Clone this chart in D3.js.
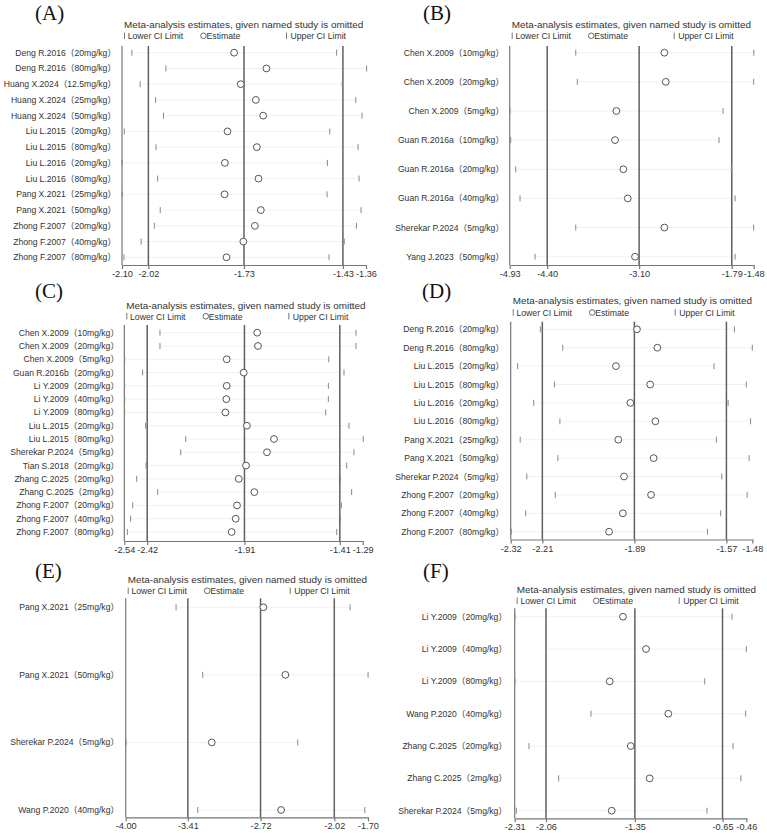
<!DOCTYPE html>
<html>
<head>
<meta charset="utf-8">
<script src="https://cdn.jsdelivr.net/npm/d3@7"></script>
<style>
  html, body { margin: 0; padding: 0; background: #fff; }
  svg { display: block; }
  .lab { font-family: "Liberation Sans", Arial, "Noto Sans CJK SC", sans-serif; fill: #333; }
  .panel-tag { font-family: "Liberation Serif", "Times New Roman", serif; fill: #111; }
</style>
</head>
<body>
<svg id="chart" width="767" height="833"></svg>
<script>
// ---- data: leave-one-out estimates for each panel ----
const studiesA = ["Deng R.2016（20mg/kg）", "Deng R.2016（80mg/kg）", "Huang X.2024（12.5mg/kg）", "Huang X.2024（25mg/kg）",
  "Huang X.2024（50mg/kg）", "Liu L.2015（20mg/kg）", "Liu L.2015（80mg/kg）", "Liu L.2016（20mg/kg）", "Liu L.2016（80mg/kg）",
  "Pang X.2021（25mg/kg）", "Pang X.2021（50mg/kg）", "Zhong F.2007（20mg/kg）", "Zhong F.2007（40mg/kg）", "Zhong F.2007（80mg/kg）"];
const lowerA = [-2.070, -1.967, -2.045, -1.998, -1.974, -2.093, -1.997, -2.099, -1.992, -2.099, -1.984, -2.002, -2.042, -2.094];
const estA   = [-1.760, -1.662, -1.740, -1.694, -1.672, -1.780, -1.691, -1.788, -1.686, -1.789, -1.679, -1.697, -1.732, -1.783];
const upperA = [-1.449, -1.358, -1.432, -1.391, -1.372, -1.470, -1.384, -1.477, -1.381, -1.478, -1.375, -1.389, -1.426, -1.472];
const ticksA = [-2.10, -2.02, -1.73, -1.43, -1.36];

const studiesB = ["Chen X.2009（10mg/kg）", "Chen X.2009（20mg/kg）", "Chen X.2009（5mg/kg）", "Guan R.2016a（10mg/kg）",
  "Guan R.2016a（20mg/kg）", "Guan R.2016a（40mg/kg）", "Sherekar P.2024（5mg/kg）", "Yang J.2023（50mg/kg）"];
const lowerB = [-3.996, -3.974, -4.926, -4.916, -4.845, -4.784, -3.996, -4.572];
const estB   = [-2.743, -2.723, -3.422, -3.441, -3.323, -3.261, -2.743, -3.158];
const upperB = [-1.479, -1.480, -1.913, -1.970, -1.796, -1.743, -1.480, -1.743];
const ticksB = [-4.93, -4.40, -3.10, -1.79, -1.48];

const studiesC = ["Chen X.2009（10mg/kg）", "Chen X.2009（20mg/kg）", "Chen X.2009（5mg/kg）", "Guan R.2016b（20mg/kg）",
  "Li Y.2009（20mg/kg）", "Li Y.2009（40mg/kg）", "Li Y.2009（80mg/kg）", "Liu L.2015（20mg/kg）", "Liu L.2015（80mg/kg）",
  "Sherekar P.2024（5mg/kg）", "Tian S.2018（20mg/kg）", "Zhang C.2025（20mg/kg）", "Zhang C.2025（2mg/kg）",
  "Zhong F.2007（20mg/kg）", "Zhong F.2007（40mg/kg）", "Zhong F.2007（80mg/kg）"];
const lowerC = [-2.353, -2.353, -2.538, -2.444, -2.538, -2.538, -2.538, -2.428, -2.218, -2.244, -2.426, -2.475, -2.365, -2.496, -2.507, -2.524];
const estC   = [-1.843, -1.839, -2.003, -1.914, -2.003, -2.005, -2.010, -1.897, -1.755, -1.792, -1.902, -1.940, -1.858, -1.949, -1.956, -1.977];
const upperC = [-1.325, -1.325, -1.468, -1.388, -1.470, -1.470, -1.484, -1.362, -1.287, -1.336, -1.374, -1.407, -1.348, -1.402, -1.407, -1.426];
const ticksC = [-2.54, -2.42, -1.91, -1.41, -1.29];

const studiesD = ["Deng R.2016（20mg/kg）", "Deng R.2016（80mg/kg）", "Liu L.2015（20mg/kg）", "Liu L.2015（80mg/kg）",
  "Liu L.2016（20mg/kg）", "Liu L.2016（80mg/kg）", "Pang X.2021（25mg/kg）", "Pang X.2021（50mg/kg）",
  "Sherekar P.2024（5mg/kg）", "Zhong F.2007（20mg/kg）", "Zhong F.2007（40mg/kg）", "Zhong F.2007（80mg/kg）"];
const lowerD = [-2.217, -2.139, -2.296, -2.168, -2.240, -2.149, -2.287, -2.156, -2.264, -2.165, -2.268, -2.318];
const estD   = [-1.881, -1.810, -1.954, -1.835, -1.904, -1.817, -1.946, -1.823, -1.926, -1.832, -1.930, -1.978];
const upperD = [-1.542, -1.480, -1.613, -1.501, -1.564, -1.486, -1.605, -1.491, -1.586, -1.498, -1.590, -1.636];
const ticksD = [-2.32, -2.21, -1.89, -1.57, -1.48];

const studiesE = ["Pang X.2021（25mg/kg）", "Pang X.2021（50mg/kg）", "Sherekar P.2024（5mg/kg）", "Wang P.2020（40mg/kg）"];
const lowerE = [-3.522, -3.269, -3.997, -3.316];
const estE   = [-2.693, -2.484, -3.183, -2.525];
const upperE = [-1.870, -1.699, -2.367, -1.730];
const ticksE = [-4.00, -3.41, -2.72, -2.02, -1.70];

const studiesF = ["Li Y.2009（20mg/kg）", "Li Y.2009（40mg/kg）", "Li Y.2009（80mg/kg）", "Wang P.2020（40mg/kg）",
  "Zhang C.2025（20mg/kg）", "Zhang C.2025（2mg/kg）", "Sherekar P.2024（5mg/kg）"];
const lowerF = [-2.308, -2.062, -2.308, -1.701, -2.196, -1.959, -2.297];
const estF   = [-1.445, -1.261, -1.551, -1.083, -1.383, -1.232, -1.535];
const upperF = [-0.574, -0.460, -0.792, -0.465, -0.566, -0.503, -0.774];
const ticksF = [-2.31, -2.06, -1.35, -0.65, -0.46];

// ---- layout of the six panels ----
const panels = [
  { tag: "(A)", tagX: 35, tagY: 20, x0: 122, x1: 366, head: 27.5, leg: 39, top: 46, row0: 52.7, rowN: 257.3, axisY: 265, labR: 116,
    studies: studiesA, lower: lowerA, est: estA, upper: upperA, ticks: ticksA },
  { tag: "(B)", tagX: 423, tagY: 20, x0: 509.7, x1: 753.7, head: 27.5, leg: 39, top: 46, row0: 52.7, rowN: 256.7, axisY: 265, labR: 504,
    studies: studiesB, lower: lowerB, est: estB, upper: upperB, ticks: ticksB },
  { tag: "(C)", tagX: 35, tagY: 298, x0: 124.3, x1: 362.7, head: 308.5, leg: 319.5, top: 325, row0: 332.7, rowN: 532, axisY: 541, labR: 119,
    studies: studiesC, lower: lowerC, est: estC, upper: upperC, ticks: ticksC },
  { tag: "(D)", tagX: 422, tagY: 298, x0: 510.7, x1: 752.3, head: 304, leg: 315.7, top: 321.7, row0: 329.3, rowN: 531.7, axisY: 539.5, labR: 504,
    studies: studiesD, lower: lowerD, est: estD, upper: upperD, ticks: ticksD },
  { tag: "(E)", tagX: 35, tagY: 578, x0: 125.7, x1: 368, head: 583, leg: 594, top: 598.3, row0: 607.3, rowN: 810, axisY: 817.3, labR: 119,
    studies: studiesE, lower: lowerE, est: estE, upper: upperE, ticks: ticksE },
  { tag: "(F)", tagX: 423, tagY: 578, x0: 514.7, x1: 746.3, head: 593, leg: 604, top: 608.3, row0: 616.7, rowN: 810.7, axisY: 818.3, labR: 507,
    studies: studiesF, lower: lowerF, est: estF, upper: upperF, ticks: ticksF }
];

const svg = d3.select("#chart");

function drawPanel(p) {
  const g = svg.append("g");
  const x = d3.scaleLinear().domain([p.ticks[0], p.ticks[4]]).range([p.x0, p.x1]);
  const y = d3.scalePoint().domain(p.studies).range([p.row0, p.rowN]);
  const rows = p.studies.map((s, i) => ({ s, lo: p.lower[i], est: p.est[i], hi: p.upper[i] }));

  // panel tag
  g.append("text").attr("class", "panel-tag")
    .attr("x", p.tagX).attr("y", p.tagY)
    .attr("font-size", 21).text(p.tag);

  // title + legend
  g.append("text").attr("class", "lab")
    .attr("x", p.x0 + 2).attr("y", p.head)
    .attr("font-size", 9.9).text("Meta-analysis estimates, given named study is omitted");
  const leg = g.append("g").attr("font-size", 8.7);
  const bar = (bx) => leg.append("line").attr("x1", bx).attr("x2", bx)
    .attr("y1", p.leg - 6.5).attr("y2", p.leg).attr("stroke", "#555").attr("stroke-width", 0.8);
  bar(p.x0 + 2.5);
  leg.append("text").attr("class", "lab").attr("x", p.x0 + 5.7).attr("y", p.leg).text("Lower CI Limit");
  leg.append("circle").attr("cx", p.x0 + 81.5).attr("cy", p.leg - 3.2).attr("r", 2.8)
    .attr("fill", "none").attr("stroke", "#444").attr("stroke-width", 0.8);
  leg.append("text").attr("class", "lab").attr("x", p.x0 + 84.5).attr("y", p.leg).text("Estimate");
  bar(p.x0 + 164.5);
  leg.append("text").attr("class", "lab").attr("x", p.x0 + 168.5).attr("y", p.leg).text("Upper CI Limit");

  // faint row guides
  g.append("g").selectAll("line").data(rows).join("line")
    .attr("x1", d => x(d.lo)).attr("x2", d => x(d.hi))
    .attr("y1", d => y(d.s)).attr("y2", d => y(d.s))
    .attr("stroke", "#ececec").attr("stroke-width", 0.8);

  // left frame + reference lines
  g.append("line").attr("x1", p.x0).attr("x2", p.x0).attr("y1", p.top).attr("y2", p.axisY)
    .attr("stroke", "#777").attr("stroke-width", 1.2);
  g.append("g").selectAll("line").data(p.ticks.slice(1, 4)).join("line")
    .attr("x1", d => x(d)).attr("x2", d => x(d))
    .attr("y1", p.top).attr("y2", p.axisY)
    .attr("stroke", "#5f5f5f").attr("stroke-width", 1.5);

  // x axis
  const ax = g.append("g").attr("transform", `translate(0,${p.axisY})`)
    .call(d3.axisBottom(x).tickValues(p.ticks).tickSize(4).tickSizeOuter(0).tickFormat(d => d.toFixed(2)));
  ax.select(".domain").attr("stroke", "#777").attr("stroke-width", 1.2);
  ax.selectAll(".tick line").attr("stroke", "#777").attr("stroke-width", 1.2);
  ax.selectAll(".tick text").attr("class", "lab").attr("font-size", 9.2).attr("dy", "0.55em")
    .attr("font-family", "'Liberation Sans', Arial, sans-serif").attr("fill", "#333");

  // CI limits
  const ci = g.append("g").attr("stroke", "#888").attr("stroke-width", 1);
  ci.selectAll("line.lo").data(rows).join("line").attr("class", "lo")
    .attr("x1", d => x(d.lo)).attr("x2", d => x(d.lo))
    .attr("y1", d => y(d.s) - 3).attr("y2", d => y(d.s) + 3);
  ci.selectAll("line.hi").data(rows).join("line").attr("class", "hi")
    .attr("x1", d => x(d.hi)).attr("x2", d => x(d.hi))
    .attr("y1", d => y(d.s) - 3).attr("y2", d => y(d.s) + 3);

  // estimates
  g.append("g").selectAll("circle").data(rows).join("circle")
    .attr("cx", d => x(d.est)).attr("cy", d => y(d.s)).attr("r", 3.4)
    .attr("fill", "#fff").attr("stroke", "#555").attr("stroke-width", 1);

  // study labels
  g.append("g").selectAll("text").data(rows).join("text")
    .attr("class", "lab").attr("font-size", 8.6)
    .attr("x", p.labR).attr("y", d => y(d.s)).attr("dy", "0.35em")
    .attr("text-anchor", "end").text(d => d.s);
}

panels.forEach(drawPanel);
</script>
</body>
</html>
